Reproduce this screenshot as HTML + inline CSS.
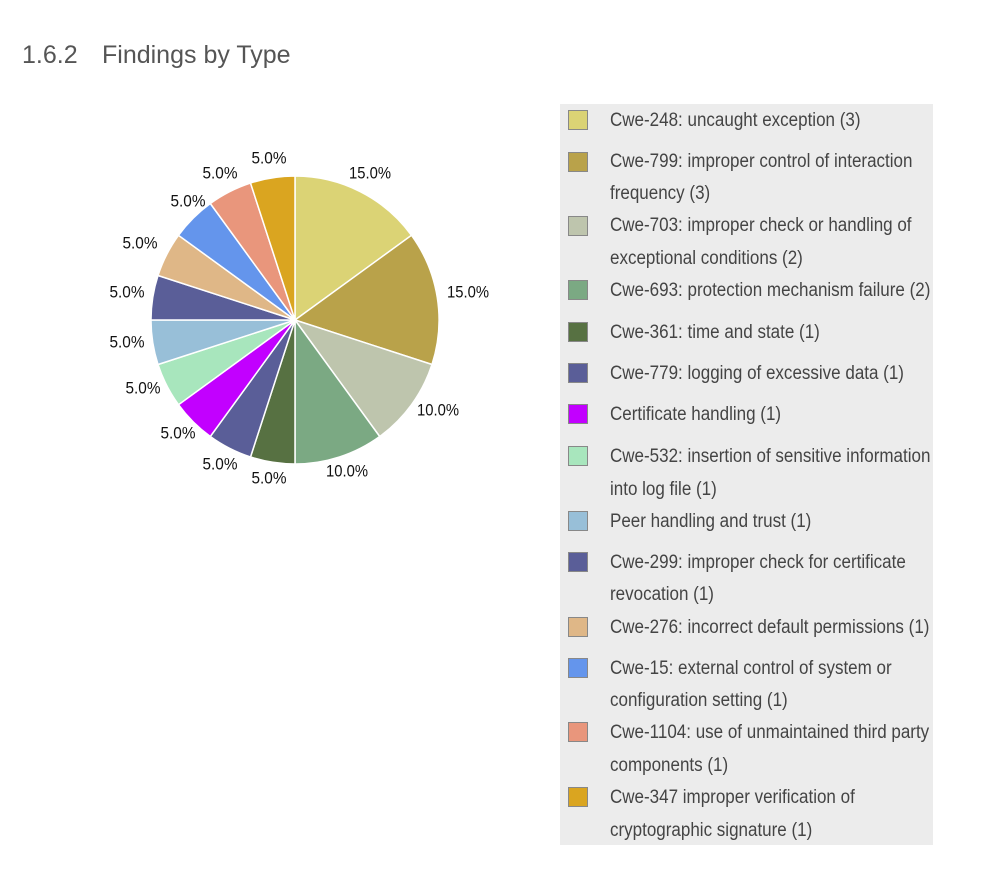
<!DOCTYPE html>
<html><head><meta charset="utf-8"><style>
body{margin:0;background:#fff;width:1005px;height:882px;position:relative;overflow:hidden;font-family:"Liberation Sans",sans-serif}
.t{position:absolute;top:41px;font-size:25px;color:#555;}
.lg{position:absolute;left:560px;top:104px;width:373px;height:741px;background:#ececec}
.sw{position:absolute;left:568px;width:18px;height:18px;border:1px solid #888}
.tx{position:absolute;left:610px;margin-top:2px;font-family:"Liberation Sans",sans-serif;font-size:19px;color:#444;white-space:nowrap;line-height:22px;transform:scaleX(0.895);transform-origin:0 0}
</style></head><body>
<div class="t" style="left:22px">1.6.2</div>
<div class="t" style="left:102px">Findings by Type</div>
<svg style="position:absolute;left:0;top:0" width="560" height="520">
<g stroke="#fff" stroke-width="1.5">
<path d="M295,320 L295,176 A144,144 0 0 1 411.5,235.3Z" fill="#dbd375"/>
<path d="M295,320 L411.5,235.3 A144,144 0 0 1 432,364.5Z" fill="#b9a24a"/>
<path d="M295,320 L432,364.5 A144,144 0 0 1 379.7,436.5Z" fill="#bec5ad"/>
<path d="M295,320 L379.7,436.5 A144,144 0 0 1 295,464Z" fill="#7ba983"/>
<path d="M295,320 L295,464 A144,144 0 0 1 250.5,457Z" fill="#577142"/>
<path d="M295,320 L250.5,457 A144,144 0 0 1 210.3,436.5Z" fill="#5a5e98"/>
<path d="M295,320 L210.3,436.5 A144,144 0 0 1 178.5,404.7Z" fill="#c200ff"/>
<path d="M295,320 L178.5,404.7 A144,144 0 0 1 158,364.5Z" fill="#a8e6bd"/>
<path d="M295,320 L158,364.5 A144,144 0 0 1 151,320Z" fill="#98bfd8"/>
<path d="M295,320 L151,320 A144,144 0 0 1 158,275.5Z" fill="#5a5e98"/>
<path d="M295,320 L158,275.5 A144,144 0 0 1 178.5,235.3Z" fill="#dfb787"/>
<path d="M295,320 L178.5,235.3 A144,144 0 0 1 210.3,203.5Z" fill="#6495ec"/>
<path d="M295,320 L210.3,203.5 A144,144 0 0 1 250.5,183Z" fill="#e9967c"/>
<path d="M295,320 L250.5,183 A144,144 0 0 1 295,176Z" fill="#daa520"/>
</g>
<g font-family="Liberation Sans, sans-serif" font-size="17" fill="#111" text-anchor="middle" dominant-baseline="central">
<text x="370" y="173" textLength="42" lengthAdjust="spacingAndGlyphs">15.0%</text>
<text x="468" y="292" textLength="42" lengthAdjust="spacingAndGlyphs">15.0%</text>
<text x="438" y="410" textLength="42" lengthAdjust="spacingAndGlyphs">10.0%</text>
<text x="347" y="471" textLength="42" lengthAdjust="spacingAndGlyphs">10.0%</text>
<text x="269" y="478" textLength="35" lengthAdjust="spacingAndGlyphs">5.0%</text>
<text x="220" y="464" textLength="35" lengthAdjust="spacingAndGlyphs">5.0%</text>
<text x="178" y="433" textLength="35" lengthAdjust="spacingAndGlyphs">5.0%</text>
<text x="143" y="388" textLength="35" lengthAdjust="spacingAndGlyphs">5.0%</text>
<text x="127" y="342" textLength="35" lengthAdjust="spacingAndGlyphs">5.0%</text>
<text x="127" y="292" textLength="35" lengthAdjust="spacingAndGlyphs">5.0%</text>
<text x="140" y="243" textLength="35" lengthAdjust="spacingAndGlyphs">5.0%</text>
<text x="188" y="201" textLength="35" lengthAdjust="spacingAndGlyphs">5.0%</text>
<text x="220" y="173" textLength="35" lengthAdjust="spacingAndGlyphs">5.0%</text>
<text x="269" y="158" textLength="35" lengthAdjust="spacingAndGlyphs">5.0%</text>
</g>
</svg>
<div class="lg"></div>
<div class="sw" style="top:110px;background:#dbd375"></div>
<div class="sw" style="top:152px;background:#b9a24a"></div>
<div class="sw" style="top:216px;background:#bec5ad"></div>
<div class="sw" style="top:280px;background:#7ba983"></div>
<div class="sw" style="top:322px;background:#577142"></div>
<div class="sw" style="top:363px;background:#5a5e98"></div>
<div class="sw" style="top:404px;background:#c200ff"></div>
<div class="sw" style="top:446px;background:#a8e6bd"></div>
<div class="sw" style="top:511px;background:#98bfd8"></div>
<div class="sw" style="top:552px;background:#5a5e98"></div>
<div class="sw" style="top:617px;background:#dfb787"></div>
<div class="sw" style="top:658px;background:#6495ec"></div>
<div class="sw" style="top:722px;background:#e9967c"></div>
<div class="sw" style="top:787px;background:#daa520"></div>
<div class="tx" style="top:108px">Cwe-248: uncaught exception (3)</div>
<div class="tx" style="top:149px">Cwe-799: improper control of interaction</div>
<div class="tx" style="top:181px">frequency (3)</div>
<div class="tx" style="top:213px">Cwe-703: improper check or handling of</div>
<div class="tx" style="top:246px">exceptional conditions (2)</div>
<div class="tx" style="top:278px">Cwe-693: protection mechanism failure (2)</div>
<div class="tx" style="top:320px">Cwe-361: time and state (1)</div>
<div class="tx" style="top:361px">Cwe-779: logging of excessive data (1)</div>
<div class="tx" style="top:402px">Certificate handling (1)</div>
<div class="tx" style="top:444px">Cwe-532: insertion of sensitive information</div>
<div class="tx" style="top:477px">into log file (1)</div>
<div class="tx" style="top:509px">Peer handling and trust (1)</div>
<div class="tx" style="top:550px">Cwe-299: improper check for certificate</div>
<div class="tx" style="top:582px">revocation (1)</div>
<div class="tx" style="top:615px">Cwe-276: incorrect default permissions (1)</div>
<div class="tx" style="top:656px">Cwe-15: external control of system or</div>
<div class="tx" style="top:688px">configuration setting (1)</div>
<div class="tx" style="top:720px">Cwe-1104: use of unmaintained third party</div>
<div class="tx" style="top:753px">components (1)</div>
<div class="tx" style="top:785px">Cwe-347 improper verification of</div>
<div class="tx" style="top:818px">cryptographic signature (1)</div>
</body></html>
